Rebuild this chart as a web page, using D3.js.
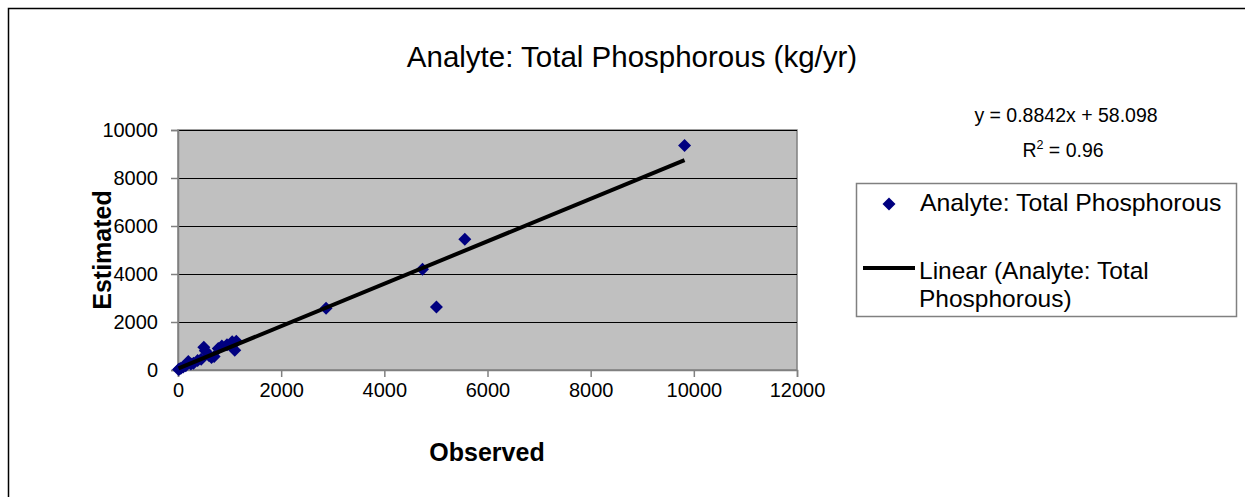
<!DOCTYPE html>
<html><head><meta charset="utf-8">
<script src="https://cdn.jsdelivr.net/npm/d3@7"></script>
<style>body{margin:0;background:#fff}svg{display:block}text{font-family:"Liberation Sans",Arial,sans-serif}</style>
</head><body><svg id="c" width="1245" height="497"></svg>
<script>
const observed  = [10, 30, 60, 100, 150, 200, 250, 300, 380, 450, 500, 530, 600, 650, 700, 780, 850, 950, 1050, 1100, 1130, 2870, 4740, 5010, 5560, 9820];
const estimated = [20, 40, 80, 130, 180, 350, 250, 280, 400, 450, 950, 800, 600, 520, 560, 900, 1000, 1050, 1180, 820, 1200, 2570, 4200, 2620, 5450, 9350];
const xTicks = [0, 2000, 4000, 6000, 8000, 10000, 12000];
const yTicks = [0, 2000, 4000, 6000, 8000, 10000];
const slope = 0.8842, intercept = 58.098;
const title = "Analyte: Total Phosphorous (kg/yr)";
const seriesName = "Analyte: Total Phosphorous";

const svg = d3.select("#c");
const L = 178, R = 797, T = 130, B = 370;
const x = d3.scaleLinear().domain([0, 12000]).range([L, R]);
const y = d3.scaleLinear().domain([0, 10000]).range([B, T]);
const FF = '"Liberation Sans",Arial,sans-serif';

// outer chart border
svg.append("rect").attr("x", 8.5).attr("y", 8.5).attr("width", 1260).attr("height", 520)
  .attr("fill", "#fff").attr("stroke", "#000").attr("stroke-width", 1.5);

// plot area
svg.append("rect").attr("x", L).attr("y", T).attr("width", R - L).attr("height", B - T)
  .attr("fill", "#c0c0c0").attr("stroke", "#808080").attr("stroke-width", 1.5);

// gridlines
svg.append("g").selectAll("line").data(yTicks.filter(d => d > 0)).join("line")
  .attr("x1", L).attr("x2", R).attr("y1", d => Math.round(y(d)) + 0.5).attr("y2", d => Math.round(y(d)) + 0.5)
  .attr("stroke", "#000").attr("stroke-width", 1);

// axes
const xAxis = d3.axisBottom(x).tickValues(xTicks).tickSize(7).tickPadding(6).tickFormat(d3.format("d"));
const gx = svg.append("g").attr("transform", `translate(0,${B})`).call(xAxis);
const yAxis = d3.axisLeft(y).tickValues(yTicks).tickSize(7).tickPadding(13).tickFormat(d3.format("d"));
const gy = svg.append("g").attr("transform", `translate(${L},0)`).call(yAxis);
[gx, gy].forEach(g => {
  g.select(".domain").attr("stroke", "#808080").attr("stroke-width", 1.5);
  g.selectAll(".tick line").attr("stroke", "#808080").attr("stroke-width", 1.5);
  g.selectAll("text").attr("fill", "#000").attr("font-family", FF).attr("font-size", 20);
});

// points
const diamond = (cx, cy, r) => `M${cx},${cy - r}L${cx + r},${cy}L${cx},${cy + r}L${cx - r},${cy}Z`;
const pts = observed.map((o, i) => ({o, e: estimated[i]}));
svg.append("g").selectAll("path").data(pts).join("path")
  .attr("d", d => diamond(x(d.o), y(d.e), 6.5)).attr("fill", "#000080");

// trend line
const xmin = d3.min(observed), xmax = d3.max(observed);
svg.append("line").attr("x1", x(xmin)).attr("y1", y(slope * xmin + intercept))
  .attr("x2", x(xmax)).attr("y2", y(slope * xmax + intercept))
  .attr("stroke", "#000").attr("stroke-width", 4);

// title
svg.append("text").attr("x", 632).attr("y", 67).attr("text-anchor", "middle")
  .attr("font-size", 29.5).text(title);

// axis titles
svg.append("text").attr("x", 487).attr("y", 461).attr("text-anchor", "middle")
  .attr("font-size", 25).attr("font-weight", "bold").text("Observed");
svg.append("text").attr("transform", "translate(111,250) rotate(-90)").attr("text-anchor", "middle")
  .attr("font-size", 25).attr("font-weight", "bold").text("Estimated");

// equation
svg.append("text").attr("x", 1066).attr("y", 122).attr("text-anchor", "middle")
  .attr("font-size", 19.5).text(`y = ${slope}x + ${intercept}`);
const r2 = svg.append("text").attr("x", 1063).attr("y", 157).attr("text-anchor", "middle").attr("font-size", 19.5);
r2.append("tspan").text("R");
r2.append("tspan").attr("font-size", 12.5).attr("dy", -8).text("2");
r2.append("tspan").attr("dy", 8).text(" = 0.96");

// legend
svg.append("rect").attr("x", 856.5).attr("y", 183.5).attr("width", 380).attr("height", 133)
  .attr("fill", "#fff").attr("stroke", "#808080").attr("stroke-width", 1.5);
svg.append("path").attr("d", diamond(889, 204, 6.5)).attr("fill", "#000080");
svg.append("text").attr("x", 920).attr("y", 211).attr("font-size", 24.8).text(seriesName);
svg.append("line").attr("x1", 863).attr("x2", 915).attr("y1", 268).attr("y2", 268)
  .attr("stroke", "#000").attr("stroke-width", 4);
svg.append("text").attr("x", 919).attr("y", 279).attr("font-size", 24.5).text("Linear (Analyte: Total");
svg.append("text").attr("x", 919).attr("y", 306.5).attr("font-size", 24.5).text("Phosphorous)");
</script></body></html>
